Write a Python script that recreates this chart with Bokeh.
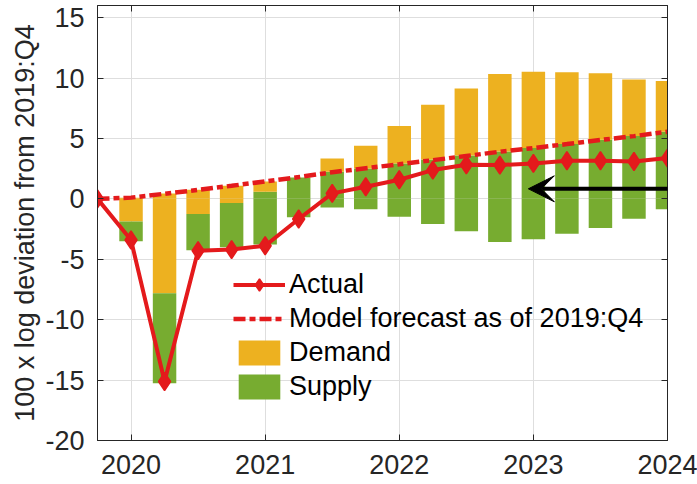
from bokeh.plotting import figure
from bokeh.models import (ColumnDataSource, FixedTicker, LinearAxis, Range1d,
                          Legend, LegendItem, Arrow, VeeHead)
from bokeh.embed import file_html
from bokeh.resources import INLINE

# ---------------- data ----------------
quarters = ["2019Q4", "2020Q1", "2020Q2", "2020Q3", "2020Q4",
            "2021Q1", "2021Q2", "2021Q3", "2021Q4",
            "2022Q1", "2022Q2", "2022Q3", "2022Q4",
            "2023Q1", "2023Q2", "2023Q3", "2023Q4", "2024Q1"]
qidx = list(range(len(quarters)))

actual = [0.0, -3.41, -15.12, -4.29, -4.20, -3.88, -1.67, 0.45, 1.00,
          1.58, 2.38, 2.82, 2.79, 2.93, 3.15, 3.15, 3.09, 3.37]
forecast = [0.0, 0.10, 0.42, 0.74, 1.08, 1.44, 1.80, 2.20, 2.53,
            2.86, 3.20, 3.55, 3.90, 4.20, 4.53, 4.87, 5.19, 5.55]

# bar contributions, 2020Q1 .. 2024Q1
bar_idx = qidx[1:]
supply_pos = [0, 0, 0, 0, 0.59, 1.77, 2.24, 2.51, 2.93, 3.26, 3.59, 3.92,
              4.20, 4.53, 4.89, 5.19, 5.55]
demand_pos = [0.10, 0.45, 0.75, 1.08, 0.85, 0, 1.10, 1.88, 3.09, 4.52, 5.54,
              6.42, 6.31, 5.95, 5.51, 4.68, 4.21]
demand_neg = [-1.87, -7.82, -1.26, -0.35, 0, 0, 0, 0, 0, 0, 0, 0, 0, 0, 0, 0, 0]
supply_neg = [-1.65, -7.44, -3.00, -3.65, -3.77, -1.53, -0.71, -0.87, -1.48,
              -2.08, -2.69, -3.57, -3.35, -2.89, -2.42, -1.65, -0.87]

x_tick_pos = [1, 5, 9, 13, 17]
x_tick_labels = ["2020", "2021", "2022", "2023", "2024"]
y_ticks = [-20, -15, -10, -5, 0, 5, 10, 15]
y_tick_labels = ["-20", "-15", "-10", "-5", "0", "5", "10", "15"]

# arrow annotation (data coordinates)
arrow_x_start, arrow_x_end, arrow_y = 19.5, 12.85, 0.83

# ---------------- style ----------------
RED = "#E41A1C"
YELLOW = "#EDB120"
GREEN = "#77AC30"
AX = "#262626"
FONT = "Liberation Sans"
FS = "27px"

p = figure(frame_width=570, frame_height=435,
           x_range=Range1d(0, 17), y_range=Range1d(-20, 16),
           output_backend="svg", toolbar_location=None,
           min_border_left=97, min_border_right=30,
           min_border_top=5, min_border_bottom=44)

bars = ColumnDataSource(dict(x=bar_idx, supply_pos=supply_pos, demand_pos=demand_pos,
                             demand_neg=demand_neg, supply_neg=supply_neg))
pos = p.vbar_stack(["supply_pos", "demand_pos"], x="x", width=0.7, source=bars,
                   color=[GREEN, YELLOW], line_color=None)
neg = p.vbar_stack(["demand_neg", "supply_neg"], x="x", width=0.7, source=bars,
                   color=[YELLOW, GREEN], line_color=None)

lines = ColumnDataSource(dict(x=qidx, actual=actual, forecast=forecast))
fc = p.line("x", "forecast", source=lines, line_color=RED, line_width=4.5,
            line_dash="12 4 6 4")
al = p.line("x", "actual", source=lines, line_color=RED, line_width=4)
ap = p.scatter("x", "actual", source=lines, marker="diamond", size=18,
               fill_color=RED, line_color=RED, line_width=1.5)

p.add_layout(Arrow(end=VeeHead(size=26, fill_color="black", line_color="black"),
                   x_start=arrow_x_start, y_start=arrow_y,
                   x_end=arrow_x_end, y_end=arrow_y,
                   line_color="black", line_width=4))

# axes
p.xaxis.ticker = FixedTicker(ticks=x_tick_pos)
p.xaxis.major_label_overrides = dict(zip(x_tick_pos, x_tick_labels))
p.yaxis.ticker = FixedTicker(ticks=y_ticks)
p.yaxis.major_label_overrides = dict(zip(y_ticks, y_tick_labels))
p.yaxis.axis_label = "100 x log deviation from 2019:Q4"
for ax in [p.xaxis, p.yaxis]:
    ax.major_label_text_font = FONT
    ax.major_label_text_font_size = FS
    ax.major_label_text_color = AX
    ax.axis_line_color = AX
    ax.major_tick_line_color = AX
    ax.major_tick_in = 6
    ax.major_tick_out = 0
    ax.minor_tick_line_color = None
    ax.axis_label_text_font = FONT
    ax.axis_label_text_font_size = FS
    ax.axis_label_text_font_style = "normal"
    ax.axis_label_text_color = AX
p.xaxis.major_label_standoff = 14
p.yaxis.major_label_standoff = 13
p.yaxis.axis_label_standoff = 2

# mirrored tick marks on top and right (MATLAB box style), no labels drawn
top = LinearAxis(ticker=FixedTicker(ticks=x_tick_pos), major_label_text_font_size="1px",
                 major_label_text_color=None, major_tick_in=6, major_tick_out=0,
                 major_label_standoff=0, axis_line_color=AX, major_tick_line_color=AX,
                 minor_tick_line_color=None)
right = LinearAxis(ticker=FixedTicker(ticks=y_ticks), major_label_text_font_size="1px",
                   major_label_text_color=None, major_tick_in=6, major_tick_out=0,
                   major_label_standoff=0, axis_line_color=AX, major_tick_line_color=AX,
                   minor_tick_line_color=None)
p.add_layout(top, "above")
p.add_layout(right, "right")

p.grid.grid_line_color = "#DEDEDE"
p.grid.grid_line_width = 1
p.outline_line_color = AX
p.outline_line_width = 1
p.background_fill_color = "white"
p.border_fill_color = "white"

legend = Legend(items=[LegendItem(label="Actual", renderers=[al, ap]),
                       LegendItem(label="Model forecast as of 2019:Q4", renderers=[fc]),
                       LegendItem(label="Demand", renderers=[pos[1]]),
                       LegendItem(label="Supply", renderers=[pos[0]])],
                location=(136, 38), border_line_color=None, background_fill_alpha=0,
                label_text_font=FONT, label_text_font_size=FS, label_text_color="black",
                glyph_width=52, glyph_height=31, label_standoff=4, spacing=3,
                padding=0, margin=0)
p.add_layout(legend)

open("out.html", "w").write(file_html(p, INLINE))
